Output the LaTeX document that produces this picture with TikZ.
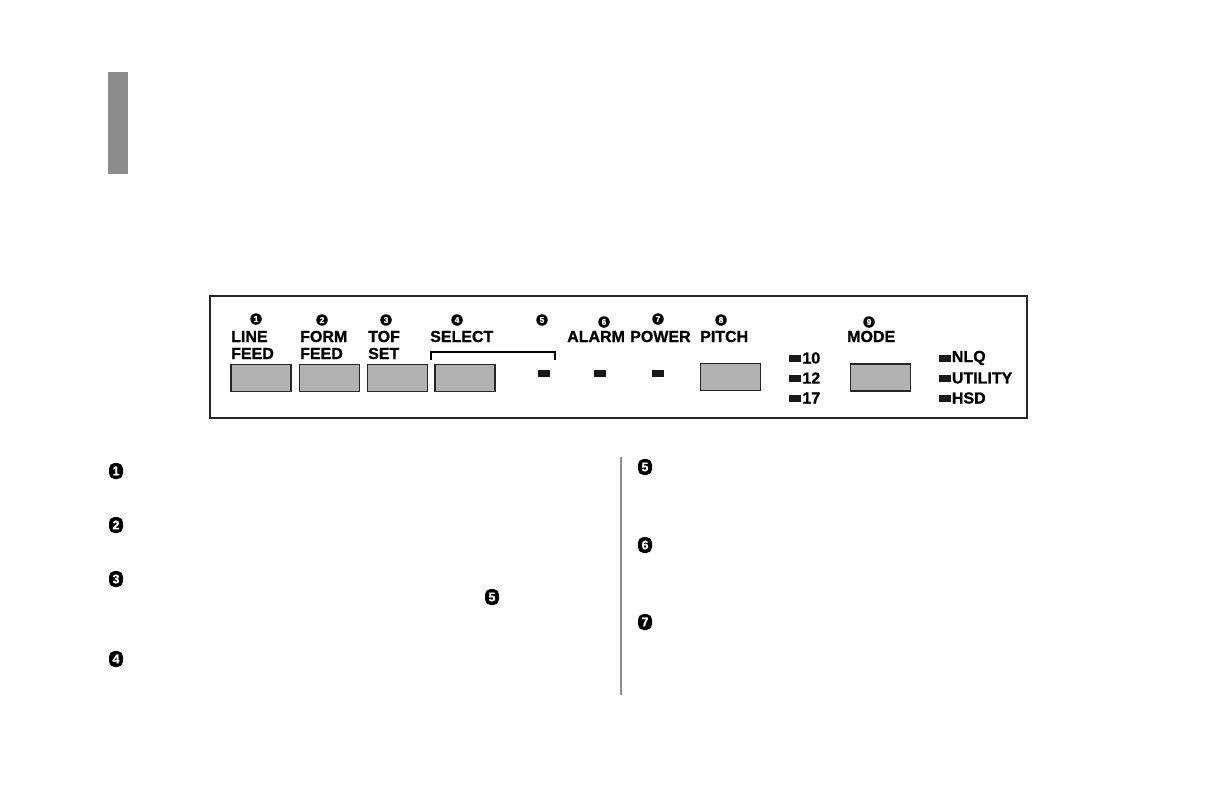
\documentclass[tikz,border=0pt]{standalone}
\usepackage{fontspec}
\newfontfamily\panelbf{Liberation Sans Bold}[FakeBold=0.9]
\usetikzlibrary{positioning}

\begin{document}
\begin{tikzpicture}[x=1pt,y=-1pt]
\tikzstyle{every node}+=[inner sep=0pt]
\tikzstyle{lbl}=[font=\panelbf\fontsize{16}{16}\selectfont, anchor=base west]
\tikzstyle{ledlbl}=[font=\panelbf\fontsize{16}{16}\selectfont]
\tikzstyle{btn}=[draw=black!85, line width=1.8pt, fill=black!30, minimum width=60pt, minimum height=27pt]
\tikzstyle{led}=[fill=black!90, minimum width=12pt, minimum height=7pt]
\tikzstyle{num}=[circle, fill=black, text=white, minimum size=11.5pt, font=\panelbf\fontsize{8.5}{8.5}\selectfont]
\tikzstyle{bignum}=[rectangle, rounded corners=5.5pt, fill=black, text=white, minimum width=14pt, minimum height=16pt, font=\panelbf\fontsize{12.5}{12.5}\selectfont]
\useasboundingbox (0,0) rectangle (1225,793);
% side tab
\fill [black!45] (108,72) rectangle (128,174);
% panel
\draw [black!85, line width=1.8pt] (210,296) rectangle (1027,418);
% buttons
\node [btn] (linefeed) at (261,378) {};
\node [btn] (formfeed) at (329.5,378) {};
\node [btn] (tofset) at (397.5,378) {};
\node [btn] (select) at (465,378) {};
\node [btn] (pitch) at (730.5,377) {};
\node [btn] (mode) at (880.5,377.5) {};
% lamps
\node [led] (selled) at (543.5,373) {};
\node [led] (alarmled) at (600,373) {};
\node [led] (powerled) at (658,373) {};
\node [led] (p10) at (795,358) {};
\node [led] (p12) at (795,378) {};
\node [led] (p17) at (795,398) {};
\node [led] (nlq) at (944.5,358) {};
\node [led] (util) at (944.5,378) {};
\node [led] (hsd) at (944.5,398) {};
\node [ledlbl, right=1pt of p10] (t10) {10};
\node [ledlbl, right=1pt of p12] (t12) {12};
\node [ledlbl, right=1pt of p17] (t17) {17};
\node [ledlbl, right=1pt of nlq] (tnlq) {NLQ};
\node [ledlbl, right=1pt of util] (tutil) {UTILITY};
\node [ledlbl, right=1pt of hsd] (thsd) {HSD};
% labels
\node [lbl] (lf1) at (231,342) {LINE};
\node [lbl] (lf2) at (231,359) {FEED};
\node [lbl] (ff1) at (300,342) {FORM};
\node [lbl] (ff2) at (300,359) {FEED};
\node [lbl] (ts1) at (368,342) {TOF};
\node [lbl] (ts2) at (368,359) {SET};
\node [lbl] (sel) at (430,342) {SELECT};
\node [lbl] (alarm) at (567,342) {ALARM};
\node [lbl] (power) at (630,342) {POWER};
\node [lbl] (pitchlbl) at (700,342) {PITCH};
\node [lbl] (modelbl) at (847,342) {MODE};
\draw [line width=1.3pt] (431,360) -- (431,352) -- (555,352) -- (555,360);
% numbers on the panel
\node [num] (n1) at (256,319) {1};
\node [num] (n2) at (322,320) {2};
\node [num] (n3) at (386,320) {3};
\node [num] (n4) at (457,320) {4};
\node [num] (n5) at (542,320) {5};
\node [num] (n6) at (604,322) {6};
\node [num] (n7) at (658,319) {7};
\node [num] (n8) at (721,320) {8};
\node [num] (n9) at (869,322) {9};
% list below
\draw [black!45, line width=1.8pt] (621,457) -- (621,695);
\node [bignum] (b1) at (116,471) {1};
\node [bignum] (b2) at (116,525) {2};
\node [bignum] (b3) at (116,579) {3};
\node [bignum] (b5x) at (492,597) {5};
\node [bignum] (b4) at (116,659) {4};
\node [bignum] (b5) at (645,467) {5};
\node [bignum] (b6) at (645,545) {6};
\node [bignum] (b7) at (645,622) {7};
\end{tikzpicture}
\end{document}
